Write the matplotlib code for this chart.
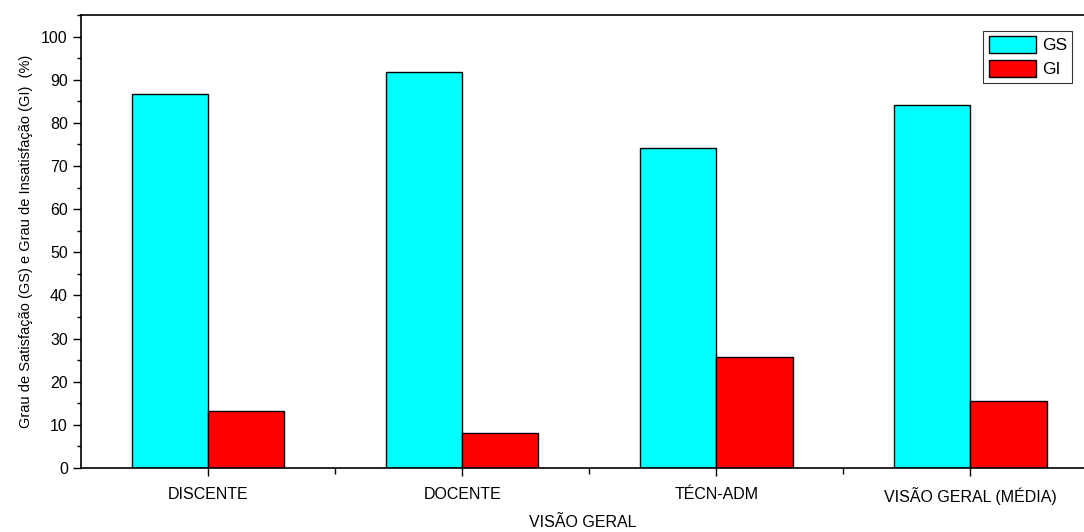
import numpy as np
import matplotlib
matplotlib.use("Agg")
from matplotlib import pyplot as plt
from matplotlib.ticker import MultipleLocator, FixedLocator

categories = ["DISCENTE", "DOCENTE", "TÉCN-ADM", "VISÃO GERAL (MÉDIA)"]
gs_values = [86.8, 91.8, 74.1, 84.2]
gi_values = [13.2, 8.2, 25.7, 15.6]

plt.rcParams["font.family"] = ["Liberation Sans", "DejaVu Sans"]

fig = plt.figure(figsize=(10.84, 5.32), dpi=100)
ax = fig.add_axes([0.0747, 0.1203, 0.9253, 0.8515])

x = np.arange(1, len(categories) + 1)
width = 0.3
ax.bar(x - width / 2, gs_values, width, color="#00ffff", edgecolor="black", linewidth=1, label="GS")
ax.bar(x + width / 2, gi_values, width, color="#ff0000", edgecolor="black", linewidth=1, label="GI")

ax.set_xlim(0.5, 4.447)
ax.set_ylim(0, 105)

ax.set_xticks(x)
ax.set_xticklabels(categories, fontsize=11.5)
ax.xaxis.set_minor_locator(FixedLocator([1.5, 2.5, 3.5]))
ax.yaxis.set_major_locator(MultipleLocator(10))
ax.yaxis.set_minor_locator(MultipleLocator(5))
ax.tick_params(axis="y", which="major", direction="out", length=6, width=1, labelsize=11.5)
ax.tick_params(axis="y", which="minor", direction="out", length=3, width=1)
ax.tick_params(axis="x", which="major", direction="out", length=6, width=1, pad=8)
ax.tick_params(axis="x", which="minor", direction="out", length=4, width=1)
ax.set_yticks(np.arange(0, 101, 10))

for s in ["left", "bottom", "top"]:
    ax.spines[s].set_linewidth(1.2)
ax.spines["right"].set_visible(False)

ax.set_xlabel("VISÃO GERAL", fontsize=11.5, labelpad=7)
ax.set_ylabel("Grau de Satisfação (GS) e Grau de Insatisfação (GI)  (%)", fontsize=10.5, labelpad=6)

leg = ax.legend(loc="upper right", bbox_to_anchor=(0.988, 0.965), fontsize=12.5,
                frameon=True, fancybox=False, edgecolor="black", handlelength=2.75,
                handleheight=1.1, handletextpad=0.3, borderpad=0.3, labelspacing=0.4,
                borderaxespad=0)
leg.get_frame().set_linewidth(0.8)

fig.savefig("out.png", dpi=100)
